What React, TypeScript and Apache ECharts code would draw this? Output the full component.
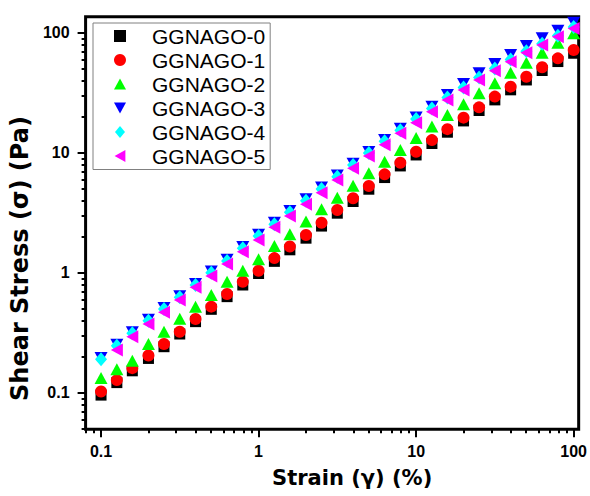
import { useEffect, useRef } from "react";
import * as echarts from "echarts";

const strain = [
  0.1, 0.126, 0.158, 0.2, 0.251, 0.316, 0.398, 0.501, 0.631, 0.794,
  1, 1.26, 1.58, 2, 2.51, 3.16, 3.98, 5.01, 6.31, 7.94,
  10, 12.6, 15.8, 20, 25.1, 31.6, 39.8, 50.1, 63.1, 79.4, 100,
];

const ggnago0 = [
  0.096, 0.122, 0.153, 0.194, 0.243, 0.31, 0.393, 0.498, 0.635, 0.794,
  0.99, 1.25, 1.56, 1.95, 2.46, 3.15, 3.94, 4.99, 6.24, 7.8,
  9.63, 12.0, 14.9, 18.5, 22.6, 27.7, 33.6, 40.6, 48.7, 57.8, 67.8,
];
const ggnago1 = [
  0.103, 0.128, 0.161, 0.205, 0.256, 0.324, 0.414, 0.524, 0.668, 0.846,
  1.045, 1.33, 1.66, 2.07, 2.62, 3.35, 4.19, 5.31, 6.64, 8.3,
  10.25, 12.8, 15.8, 19.7, 24.0, 29.5, 35.7, 43.2, 51.8, 61.5, 72.1,
];
const ggnago2 = [
  0.133, 0.158, 0.186, 0.256, 0.324, 0.416, 0.524, 0.656, 0.846, 1.045,
  1.3, 1.68, 2.1, 2.68, 3.4, 4.24, 5.34, 6.77, 8.46, 10.6,
  13.3, 16.6, 20.7, 25.5, 31.4, 38.1, 46.7, 56.6, 68.5, 83.0, 99.4,
];
const ggnago3 = [
  0.196, 0.252, 0.32, 0.408, 0.51, 0.64, 0.81, 1.03, 1.29, 1.65,
  2.08, 2.62, 3.28, 4.12, 5.15, 6.5, 8.15, 10.2, 12.8, 15.9,
  19.8, 24.3, 30.4, 37.6, 46.2, 55.2, 65.6, 77.9, 90.3, 104.5, 122,
];
const ggnago4 = [
  0.191, 0.248, 0.314, 0.4, 0.501, 0.627, 0.794, 1.006, 1.26, 1.61,
  2.03, 2.55, 3.2, 4.0, 5.0, 6.35, 7.95, 10.0, 12.5, 15.5,
  19.2, 23.5, 29.0, 35.2, 42.5, 50.5, 60, 70.5, 81.5, 95, 112,
];
const ggnago5 = [
  null, 0.228, 0.294, 0.376, 0.47, 0.596, 0.76, 0.944, 1.19, 1.5,
  1.88, 2.4, 2.99, 3.74, 4.67, 5.96, 7.46, 9.44, 11.7, 14.6,
  17.9, 22.1, 27.7, 33.5, 40.6, 48.5, 57.6, 68.5, 79.4, 93.2, 109,
];

const seriesNames = ["GGNAGO-0", "GGNAGO-1", "GGNAGO-2", "GGNAGO-3", "GGNAGO-4", "GGNAGO-5"];
const seriesValues = [ggnago0, ggnago1, ggnago2, ggnago3, ggnago4, ggnago5];
const seriesColors = ["#000000", "#ff0000", "#00ff00", "#0000ff", "#00ffff", "#ff00ff"];
const seriesSymbols = ["rect", "circle", "triangle", "triangle", "diamond", "triangle"];
const seriesRotate = [0, 0, 0, 180, 0, 90];
const seriesSizes: (number | number[])[] = [11, 12, [13, 12], [13, 12], [12, 14], [13, 12]];
const legendIcons = [
  "rect",
  "circle",
  "path://M5,0L10,9L0,9Z",
  "path://M0,0L10,0L5,9Z",
  "path://M5,0L10,6L5,12L0,6Z",
  "path://M9,0L9,10L0,5Z",
];

const xMajorTicks = [0.1, 1, 10, 100];
const xMinorTicks = [
  0.08, 0.09, 0.2, 0.3, 0.4, 0.5, 0.6, 0.7, 0.8, 0.9,
  2, 3, 4, 5, 6, 7, 8, 9, 20, 30, 40, 50, 60, 70, 80, 90,
];
const yMajorTicks = [0.1, 1, 10, 100];
const yMinorTicks = [
  0.05, 0.06, 0.07, 0.08, 0.09, 0.2, 0.3, 0.4, 0.5, 0.6, 0.7, 0.8, 0.9,
  2, 3, 4, 5, 6, 7, 8, 9, 20, 30, 40, 50, 60, 70, 80, 90,
];

const X_MIN = 0.0798;
const X_MAX = 107.6;
const Y_MIN = 0.0498;
const Y_MAX = 136.7;

const tickFont = "'Liberation Sans', Arial, sans-serif";
const titleFont = "'DejaVu Sans', sans-serif";

export default function App() {
  const ref = useRef<HTMLDivElement>(null);

  useEffect(() => {
    document.body.style.margin = "0";
    const chart = echarts.init(ref.current!, null, { renderer: "svg" });

    const fmt = (v: number) => String(v);

    const series = seriesNames.map((name, k) => ({
      name,
      type: "scatter",
      xAxisIndex: 0,
      yAxisIndex: 0,
      symbol: seriesSymbols[k],
      symbolSize: seriesSizes[k],
      symbolRotate: seriesRotate[k],
      itemStyle: { color: seriesColors[k], opacity: 1 },
      emphasis: { disabled: true },
      data: strain
        .map((x, i) => [x, seriesValues[k][i]])
        .filter((p) => p[1] !== null),
    }));

    chart.setOption({
      animation: false,
      grid: {
        left: 84.5,
        right: 11,
        top: 16.7,
        bottom: 66.7,
        show: true,
        borderColor: "#000",
        borderWidth: 3,
        backgroundColor: "transparent",
      },
      legend: {
        orient: "vertical",
        left: 93,
        top: 23,
        itemWidth: 12,
        itemHeight: 12,
        itemGap: 3,
        padding: [2.5, 5, 3, 21],
        borderColor: "#808080",
        borderWidth: 1,
        selectedMode: false,
        symbolKeepAspect: true,
        textStyle: {
          fontSize: 21,
          lineHeight: 21,
          fontFamily: tickFont,
          color: "#000",
          padding: [0, 0, 0, 21],
        },
        data: seriesNames.map((name, k) => ({ name, icon: legendIcons[k] })),
      },
      xAxis: [
        {
          type: "log",
          logBase: 10,
          min: X_MIN,
          max: X_MAX,
          position: "bottom",
          axisLine: { show: false, onZero: false },
          axisTick: {
            show: true,
            inside: false,
            length: 8,
            lineStyle: { width: 2, color: "#000" },
            customValues: xMajorTicks,
          },
          axisLabel: {
            customValues: xMajorTicks,
            formatter: fmt,
            margin: 14,
            fontSize: 16,
            fontWeight: "bold",
            fontFamily: tickFont,
            color: "#000",
          },
          splitLine: { show: false },
          minorTick: { show: false },
          name: "Strain (γ) (%)",
          nameLocation: "middle",
          nameGap: 38,
          nameTextStyle: {
            fontSize: 21,
            fontWeight: "bold",
            fontFamily: titleFont,
            color: "#000",
            padding: [0, 0, 0, 40],
          },
        },
        {
          type: "log",
          logBase: 10,
          min: X_MIN,
          max: X_MAX,
          position: "bottom",
          axisLine: { show: false, onZero: false },
          axisTick: {
            show: true,
            inside: false,
            length: 4,
            lineStyle: { width: 2, color: "#000" },
            customValues: xMinorTicks,
          },
          axisLabel: { show: false },
          splitLine: { show: false },
        },
      ],
      yAxis: [
        {
          type: "log",
          logBase: 10,
          min: Y_MIN,
          max: Y_MAX,
          position: "left",
          axisLine: { show: false, onZero: false },
          axisTick: {
            show: true,
            inside: false,
            length: 8,
            lineStyle: { width: 2, color: "#000" },
            customValues: yMajorTicks,
          },
          axisLabel: {
            customValues: yMajorTicks,
            formatter: fmt,
            margin: 16,
            fontSize: 16,
            fontWeight: "bold",
            fontFamily: tickFont,
            color: "#000",
          },
          splitLine: { show: false },
          minorTick: { show: false },
          name: "Shear Stress (σ) (Pa)",
          nameLocation: "middle",
          nameGap: 51,
          nameTextStyle: {
            fontSize: 24,
            fontWeight: "bold",
            fontFamily: titleFont,
            color: "#000",
            padding: [0, 71, 0, 0],
          },
        },
        {
          type: "log",
          logBase: 10,
          min: Y_MIN,
          max: Y_MAX,
          position: "left",
          axisLine: { show: false, onZero: false },
          axisTick: {
            show: true,
            inside: false,
            length: 4,
            lineStyle: { width: 2, color: "#000" },
            customValues: yMinorTicks,
          },
          axisLabel: { show: false },
          splitLine: { show: false },
        },
      ],
      series,
    });

    return () => chart.dispose();
  }, []);

  return <div ref={ref} style={{ width: 590, height: 496 }} />;
}
